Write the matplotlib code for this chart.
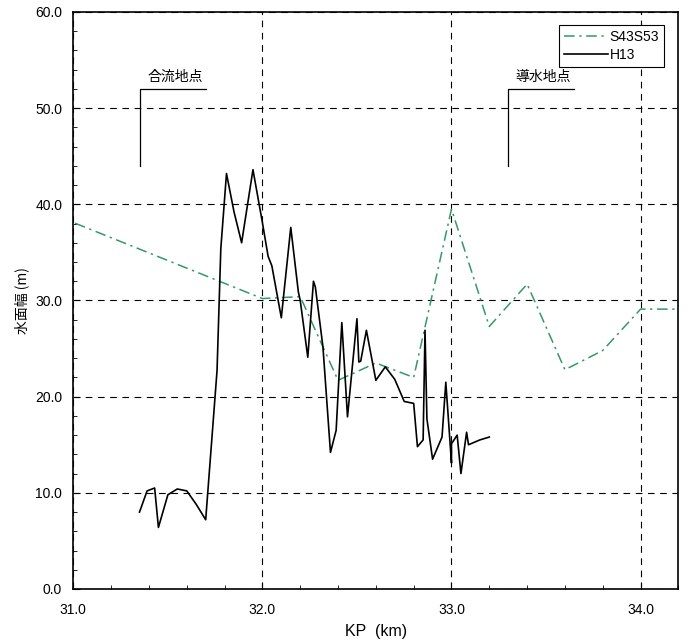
import matplotlib.pyplot as plt
from matplotlib.ticker import MultipleLocator, FormatStrFormatter

plt.rcParams['font.family'] = ['Liberation Sans', 'Noto Sans CJK JP', 'DejaVu Sans']

# S43S53 survey (dash-dot green)
s43_kp = [30.9, 32.0, 32.2, 32.4, 32.6, 32.8, 33.0, 33.2, 33.4, 33.6, 33.8, 34.0, 34.2, 34.4]
s43_w = [38.9, 30.2, 30.4, 21.7, 23.5, 22.0, 39.5, 27.3, 31.7, 22.8, 24.8, 29.1, 29.1, 29.1]

# H13 survey (solid black)
h13_kp = [31.35, 31.39, 31.43, 31.45, 31.50, 31.55, 31.60, 31.65, 31.70, 31.76, 31.78,
          31.81, 31.85, 31.89, 31.95, 31.99, 32.00, 32.03, 32.05, 32.10, 32.15, 32.19,
          32.20, 32.24, 32.27, 32.28, 32.32, 32.36, 32.39, 32.42, 32.45, 32.50, 32.51,
          32.52, 32.55, 32.60, 32.65, 32.70, 32.75, 32.80, 32.82, 32.85, 32.86, 32.87,
          32.90, 32.95, 32.97, 33.00, 33.00, 33.03, 33.05, 33.08, 33.09, 33.15, 33.20]
h13_w = [8.0, 10.2, 10.5, 6.4, 9.8, 10.4, 10.2, 8.8, 7.2, 22.7, 35.4,
         43.2, 39.2, 36.0, 43.6, 39.2, 38.1, 34.6, 33.6, 28.2, 37.6, 30.9,
         30.0, 24.1, 32.0, 31.4, 25.2, 14.2, 16.5, 27.7, 17.9, 28.1, 23.6,
         23.7, 26.9, 21.7, 23.1, 21.8, 19.5, 19.3, 14.8, 15.5, 26.9, 17.7,
         13.5, 15.8, 21.5, 13.1, 15.1, 16.0, 12.0, 16.3, 15.0, 15.5, 15.8]

# site markers: (label, kp of vertical leg, kp end of top leg, bottom, top)
sites = [("合流地点", 31.35, 31.70, 44.0, 52.0),
         ("導水地点", 33.30, 33.65, 44.0, 52.0)]

fig = plt.figure(figsize=(6.88, 6.4), dpi=100)
ax = fig.add_axes([0.1066, 0.0797, 0.8794, 0.9016])

ax.plot(s43_kp, s43_w, color='#339966', lw=1.1, ls=(0, (7, 3, 1.5, 3)), label='S43S53')
ax.plot(h13_kp, h13_w, color='black', lw=1.2, label='H13')

for name, x0, x1, y0, y1 in sites:
    ax.plot([x0, x0, x1], [y0, y1, y1], color='black', lw=0.9)
    ax.text(x0 + 0.04, y1 + 0.5, name, fontsize=10, family=['Noto Sans CJK JP'],
            ha='left', va='bottom')

ax.set_xlim(31.0, 34.2)
ax.set_ylim(0, 60)
ax.xaxis.set_major_locator(MultipleLocator(1.0))
ax.xaxis.set_minor_locator(MultipleLocator(0.2))
ax.yaxis.set_major_locator(MultipleLocator(10))
ax.yaxis.set_minor_locator(MultipleLocator(2))
ax.xaxis.set_major_formatter(FormatStrFormatter('%.1f'))
ax.yaxis.set_major_formatter(FormatStrFormatter('%.1f'))
ax.tick_params(which='both', direction='in', labelsize=10)
ax.tick_params(which='major', length=5)
ax.tick_params(axis='x', which='major', pad=10)
ax.tick_params(axis='y', which='major', pad=8)
ax.tick_params(which='minor', length=3)
ax.grid(True, which='major', color='black', lw=0.8, ls=(0, (6, 5)))
for s in ax.spines.values():
    s.set_linewidth(1.2)

ax.set_xlabel('KP  (km)', fontsize=11.5, labelpad=5)
ax.set_ylabel('水面幅 (m)', fontsize=10, family=['Noto Sans CJK JP'], labelpad=4)

leg = ax.legend(loc='upper right', bbox_to_anchor=(0.976, 0.977), fontsize=10,
                fancybox=False, edgecolor='black', framealpha=1, handlelength=3.2,
                handletextpad=0.1, borderpad=0.35, labelspacing=0.3, borderaxespad=0)
leg.get_frame().set_linewidth(0.8)

fig.savefig('out.png', dpi=100)
